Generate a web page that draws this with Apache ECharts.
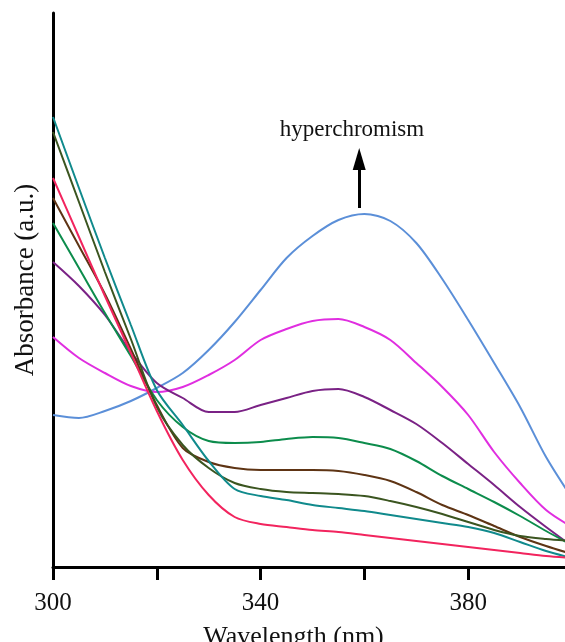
<!DOCTYPE html>
<html>
<head>
<meta charset="utf-8">
<title>Absorbance spectra</title>
<script src="https://cdn.jsdelivr.net/npm/echarts@6/dist/echarts.min.js"></script>
<style>
  html, body { margin: 0; padding: 0; background: #fff; }
  #chart { width: 565px; height: 642px; }
</style>
</head>
<body>
<div id="chart"></div>
<script>
// wavelengths (nm)
var wavelengths = [300, 305, 310, 315, 320, 325, 330, 335, 340, 345, 350,
  355, 360, 365, 370, 375, 380, 385, 390, 395, 400]
var xTicks = [300, 340, 380]

// absorbance (a.u.)
var blueCurve = [0.304, 0.298, 0.312, 0.332, 0.358, 0.388, 0.434, 0.490, 0.554, 0.618, 0.662,
  0.694, 0.706, 0.692, 0.648, 0.576, 0.494, 0.408, 0.320, 0.220, 0.138]
var magentaCurve = [0.460, 0.418, 0.388, 0.362, 0.350, 0.360, 0.384, 0.414, 0.454, 0.476, 0.492,
  0.496, 0.480, 0.454, 0.408, 0.360, 0.304, 0.230, 0.168, 0.114, 0.080]
var purpleCurve = [0.610, 0.562, 0.504, 0.430, 0.368, 0.338, 0.310, 0.310, 0.324, 0.338, 0.352,
  0.356, 0.340, 0.314, 0.286, 0.248, 0.206, 0.164, 0.120, 0.080, 0.042]
var greenCurve = [0.688, 0.598, 0.508, 0.422, 0.334, 0.280, 0.252, 0.248, 0.250, 0.256, 0.260,
  0.258, 0.248, 0.236, 0.212, 0.182, 0.156, 0.130, 0.102, 0.072, 0.044]
var brownCurve = [0.738, 0.642, 0.546, 0.436, 0.324, 0.238, 0.210, 0.198, 0.194, 0.194, 0.194,
  0.192, 0.184, 0.172, 0.150, 0.124, 0.104, 0.082, 0.060, 0.042, 0.026]
var oliveCurve = [0.870, 0.730, 0.590, 0.456, 0.320, 0.244, 0.198, 0.168, 0.156, 0.150, 0.148,
  0.146, 0.142, 0.132, 0.120, 0.106, 0.090, 0.074, 0.062, 0.056, 0.052]
var tealCurve = [0.900, 0.758, 0.618, 0.484, 0.354, 0.284, 0.212, 0.156, 0.142, 0.134, 0.124,
  0.118, 0.112, 0.104, 0.096, 0.088, 0.080, 0.068, 0.050, 0.032, 0.018]
var redCurve = [0.778, 0.660, 0.542, 0.428, 0.312, 0.214, 0.144, 0.100, 0.086, 0.080, 0.074,
  0.070, 0.064, 0.058, 0.052, 0.046, 0.040, 0.034, 0.028, 0.022, 0.018]

// arrow of the annotation (x in nm, y in a.u.)
var arrowX = 359
var arrowFrom = 0.718
var arrowTo = 0.816

var serif = '"Liberation Serif", "DejaVu Serif", serif'

function pairs(values){
  return wavelengths.map(function(w, i){ return [w, values[i]] })
}

function curve(color, values){
  return {
    type: 'line',
    data: pairs(values),
    showSymbol: false,
    smooth: 0.3,
    lineStyle: { color: color, width: 2 },
    itemStyle: { color: color }
  }
}

var chart = echarts.init(document.getElementById('chart'), null, { renderer: 'canvas' })

var blueSeries = curve('#5b8fd8', blueCurve)
blueSeries.markLine = {
  silent: true,
  symbol: ['none', 'triangle'],
  symbolSize: [13, 22],
  label: { show: false },
  lineStyle: { color: '#000', width: 3, type: 'solid' },
  data: [[{ coord: [arrowX, arrowFrom] }, { coord: [arrowX, arrowTo] }]]
}

var option = {
  animation: false,
  backgroundColor: '#fff',
  grid: { left: 53, right: -7, top: 13, bottom: 75, outerBoundsMode: 'none' },
  xAxis: {
    type: 'value',
    min: 300,
    max: 400,
    interval: 20,
    name: 'Wavelength (nm)',
    nameLocation: 'middle',
    nameGap: 57,
    nameTextStyle: { fontFamily: serif, fontSize: 26, color: '#111', padding: [0, 38, 0, 0] },
    axisLine: { show: true, lineStyle: { color: '#000', width: 3 } },
    axisTick: { show: true, inside: false, length: 13, lineStyle: { color: '#000', width: 3 } },
    axisLabel: {
      margin: 24,
      fontFamily: serif,
      fontSize: 25,
      color: '#111',
      formatter: function(v){ return xTicks.indexOf(v) >= 0 ? String(v) : '' }
    },
    splitLine: { show: false }
  },
  yAxis: {
    type: 'value',
    min: 0,
    max: 1.108,
    name: 'Absorbance (a.u.)',
    nameLocation: 'middle',
    nameGap: 14,
    nameTextStyle: { fontFamily: serif, fontSize: 27, color: '#111', padding: [0, 0, 0, 20] },
    axisLine: { show: true, lineStyle: { color: '#000', width: 3 } },
    axisTick: { show: false },
    axisLabel: { show: false },
    splitLine: { show: false }
  },
  graphic: [{
    type: 'text',
    x: 352,
    y: 130,
    style: {
      text: 'hyperchromism',
      fontFamily: serif,
      fontSize: 23,
      fill: '#111',
      align: 'center',
      verticalAlign: 'middle'
    }
  }],
  series: [
    blueSeries,
    curve('#e02ee0', magentaCurve),
    curve('#7a2285', purpleCurve),
    curve('#0c8c4c', greenCurve),
    curve('#5e3414', brownCurve),
    curve('#3b5520', oliveCurve),
    curve('#108a8c', tealCurve),
    curve('#f2245e', redCurve)
  ]
}

chart.setOption(option)
</script>
</body>
</html>
